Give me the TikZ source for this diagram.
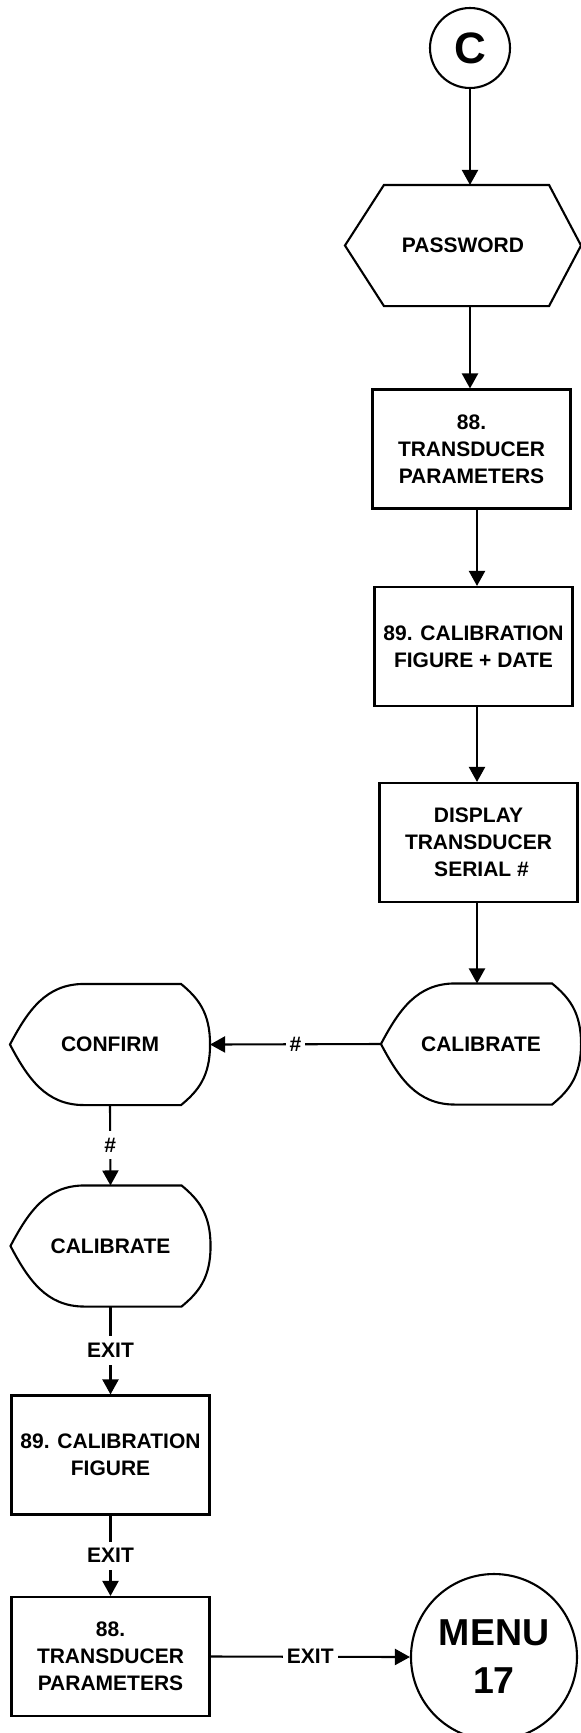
\documentclass[tikz,border=0pt]{standalone}
\usepackage{fontspec}
\setmainfont{Liberation Sans}
\usetikzlibrary{arrows.meta,calc}
\newcommand\dispoutline[1]{%
  \draw (#1.west) .. controls ($(#1.west)+(18,-34)$) and ($(#1.north west)+(36,0)$) .. ($(#1.north west)+(74,0)$)
    -- ($(#1.north east)+(-29,0)$) .. controls ($(#1.north east)+(-12,14)$) and ($(#1.east)+(0,-32)$) .. (#1.east)
    .. controls ($(#1.east)+(0,32)$) and ($(#1.south east)+(-12,-14)$) .. ($(#1.south east)+(-29,0)$)
    -- ($(#1.south west)+(74,0)$) .. controls ($(#1.south west)+(36,0)$) and ($(#1.west)+(18,34)$) .. (#1.west) -- cycle;}
\begin{document}
\begin{tikzpicture}[x=1pt,y=-1pt,
  every node/.style={font=\bfseries\fontsize{21}{27}\selectfont, align=center, inner sep=0pt},
  line width=2.1pt,
  arr/.style={-{Triangle[length=15pt,width=16pt]}},
  box/.style={draw, minimum width=198pt, minimum height=119pt},
  disp/.style={minimum width=198pt, minimum height=119pt},
  lbl/.style={fill=white, inner xsep=4pt, inner ysep=7pt},
]
\useasboundingbox (0,0) rectangle (581,1733);
\clip (0,0) rectangle (581,1733);

% right column
\node[draw, circle, minimum size=80pt, font=\bfseries\fontsize{44}{44}\selectfont] (c) at (470,48) {C};
\node[minimum width=234pt, minimum height=119pt] (pw) at (463,245.5) {PASSWORD};
\draw (pw.west) -- ($(pw.north west)+(39,0)$) -- ($(pw.north east)+(-32,0)$) -- (pw.east)
  -- ($(pw.south east)+(-32,0)$) -- ($(pw.south west)+(39,0)$) -- cycle;
\node[box] (b88) at (471.5,449) {88.\\TRANSDUCER\\PARAMETERS};
\node[box] (b89) at (473.5,646.5) {89. CALIBRATION\\FIGURE + DATE};
\node[box] (dsp) at (478.5,842.5) {DISPLAY\\TRANSDUCER\\\hspace*{6pt}SERIAL \#};
\node[disp] (calR) at (481,1044) {CALIBRATE};
\dispoutline{calR}

% left column
\node[disp] (conf) at (110,1044.5) {CONFIRM};
\dispoutline{conf}
\node[disp] (calL) at (110.5,1246) {CALIBRATE};
\dispoutline{calL}
\node[box] (b89L) at (110.5,1455) {89. CALIBRATION\\FIGURE};
\node[box] (b88L) at (110.5,1656.5) {88.\\TRANSDUCER\\PARAMETERS};
\node[draw, circle, minimum size=166pt, font=\bfseries\fontsize{37.5}{48}\selectfont] (menu) at (494,1657) {MENU\\17};

% connectors
\draw[arr] (c.south) -- (c.south |- pw.north);
\draw[arr] (pw.south -| c.south) -- (b88.north -| c.south);
\draw[arr] ([xshift=5.5pt]b88.south) -- ([xshift=5.5pt]b88.south |- b89.north);
\draw[arr] ([xshift=3.5pt]b89.south) -- ([xshift=3.5pt]b89.south |- dsp.north);
\draw[arr] ([xshift=-1.5pt]dsp.south) -- ([xshift=-1.5pt]dsp.south |- calR.north);
\draw[arr] (calR.west) -- node[lbl]{\#} (conf.east);
\draw[arr] (conf.south) -- node[lbl]{\#} (calL.north);
\draw[arr] (calL.south) -- node[lbl]{EXIT} (b89L.north);
\draw[arr] (b89L.south) -- node[lbl]{EXIT} (b88L.north);
\draw[arr] (b88L.east) -- node[lbl]{EXIT} (menu.west);
\end{tikzpicture}
\end{document}
